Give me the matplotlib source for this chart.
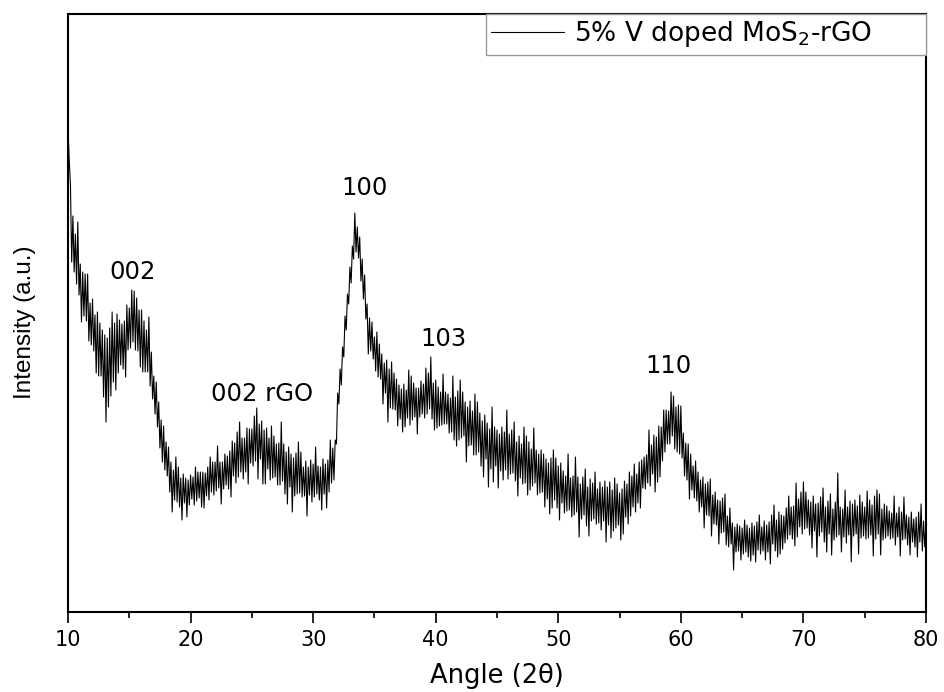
import numpy as np
import matplotlib
matplotlib.use("Agg")
import matplotlib.pyplot as plt

# ---- data (arbitrary intensity units) ----
angle_start, angle_stop, angle_step = 10.0, 80.0, 0.1
intensity = [
    484, 452, 427, 350, 396, 340, 378, 328, 390, 317,   # 10
    348, 290, 340, 296, 338, 291, 338, 271, 309, 267,   # 11
    313, 261, 297, 239, 300, 236, 289, 236, 282, 215,   # 12
    277, 190, 274, 205, 284, 216, 300, 230, 289, 222,   # 13
    298, 239, 292, 247, 288, 243, 291, 235, 307, 262,   # 14
    304, 264, 322, 270, 321, 262, 314, 261, 302, 245,   # 15
    302, 240, 291, 240, 282, 240, 295, 226, 260, 213,   # 16
    236, 198, 230, 185, 210, 164, 192, 150, 186, 142,   # 17
    170, 136, 165, 120, 150, 100, 142, 112, 155, 110,   # 18
    145, 105, 134, 92, 138, 109, 134, 95, 132, 107,     # 19
    137, 113, 135, 107, 145, 111, 140, 114, 140, 105,   # 20
    140, 104, 139, 116, 145, 112, 155, 120, 150, 117,   # 21
    150, 121, 166, 124, 150, 108, 150, 123, 158, 127,   # 22
    156, 123, 161, 115, 171, 136, 169, 129, 180, 135,   # 23
    190, 140, 174, 133, 174, 140, 184, 128, 183, 149,   # 24
    183, 146, 196, 151, 204, 133, 188, 153, 191, 128,   # 25
    182, 128, 184, 143, 174, 132, 186, 134, 176, 135,   # 26
    168, 127, 169, 127, 190, 131, 168, 118, 160, 108,   # 27
    165, 125, 158, 100, 154, 116, 159, 118, 170, 119,   # 28
    160, 115, 145, 116, 151, 96, 145, 117, 152, 110,    # 29
    148, 115, 165, 118, 146, 112, 145, 102, 153, 118,   # 30
    148, 104, 152, 120, 172, 129, 164, 132, 172, 168,   # 31
    219, 208, 243, 227, 265, 255, 296, 282, 318, 308,   # 32
    345, 329, 366, 353, 399, 360, 385, 354, 375, 331,   # 33
    353, 313, 337, 293, 308, 258, 294, 261, 290, 253,   # 34
    275, 241, 280, 235, 268, 233, 258, 208, 249, 219,   # 35
    252, 190, 243, 204, 250, 203, 239, 202, 233, 186,   # 36
    227, 193, 223, 180, 228, 185, 222, 194, 242, 187,   # 37
    236, 192, 229, 195, 224, 178, 224, 195, 231, 198,   # 38
    228, 194, 244, 198, 239, 203, 255, 193, 229, 182,   # 39
    232, 184, 225, 186, 220, 187, 238, 188, 220, 188,   # 40
    218, 179, 214, 180, 236, 172, 215, 166, 221, 172,   # 41
    232, 174, 220, 176, 210, 150, 205, 166, 211, 167,   # 42
    201, 157, 218, 157, 210, 160, 199, 146, 191, 135,   # 43
    197, 153, 189, 125, 183, 143, 205, 130, 185, 146,   # 44
    182, 124, 178, 141, 185, 132, 180, 142, 202, 133,   # 45
    178, 138, 182, 139, 190, 131, 170, 116, 176, 134,   # 46
    168, 128, 185, 129, 176, 117, 170, 122, 163, 126,   # 47
    184, 129, 162, 117, 158, 119, 162, 120, 158, 105,   # 48
    153, 113, 149, 98, 154, 104, 162, 112, 154, 104,    # 49
    146, 92, 149, 109, 141, 99, 136, 101, 158, 102,     # 50
    134, 95, 136, 97, 155, 100, 135, 75, 128, 93,       # 51
    135, 97, 143, 86, 125, 76, 133, 91, 129, 93,        # 52
    140, 88, 123, 89, 130, 82, 125, 91, 131, 70,        # 53
    125, 87, 130, 74, 122, 81, 134, 84, 128, 87,        # 54
    119, 72, 123, 78, 131, 95, 128, 88, 140, 96,        # 55
    136, 105, 148, 100, 138, 109, 150, 104, 152, 124,   # 56
    155, 123, 157, 129, 182, 126, 167, 138, 177, 120,   # 57
    175, 130, 186, 135, 185, 151, 202, 160, 202, 168,   # 58
    201, 168, 220, 176, 216, 163, 205, 160, 207, 158,   # 59
    206, 154, 179, 136, 169, 132, 168, 113, 158, 122,   # 60
    146, 114, 151, 111, 140, 100, 132, 105, 135, 84,    # 61
    128, 97, 130, 96, 133, 76, 117, 88, 120, 87,        # 62
    112, 68, 111, 79, 114, 80, 118, 67, 96, 65,         # 63
    104, 68, 89, 42, 85, 60, 88, 61, 86, 52,            # 64
    84, 58, 92, 60, 87, 55, 84, 51, 89, 57,             # 65
    86, 50, 90, 62, 97, 58, 85, 61, 91, 52,             # 66
    87, 60, 90, 48, 97, 68, 107, 61, 92, 55,            # 67
    100, 58, 97, 63, 96, 69, 104, 73, 116, 77,          # 68
    105, 73, 106, 66, 129, 75, 113, 85, 120, 78,        # 69
    130, 83, 120, 84, 112, 77, 110, 64, 116, 81,        # 70
    108, 55, 109, 76, 115, 80, 124, 70, 105, 60,        # 71
    111, 78, 118, 57, 103, 72, 110, 75, 139, 77,        # 72
    105, 60, 103, 75, 122, 69, 105, 77, 111, 50,        # 73
    108, 76, 112, 78, 106, 58, 117, 74, 110, 76,        # 74
    105, 73, 121, 74, 112, 77, 107, 56, 116, 73,        # 75
    122, 78, 118, 57, 103, 72, 108, 74, 106, 76,        # 76
    101, 73, 99, 74, 116, 67, 99, 75, 105, 56,          # 77
    100, 72, 115, 73, 97, 67, 95, 57, 100, 70,          # 78
    93, 65, 95, 55, 100, 70, 108, 61, 91, 65,           # 79
    88,                                                 # 80
]
angle = np.round(np.arange(angle_start, angle_stop + angle_step / 2, angle_step), 1)

peak_labels = ["002", "100", "002 rGO", "103", "110"]
peak_label_x = [15.3, 34.2, 25.85, 40.6, 59.0]
peak_label_y = [333, 417, 211, 266, 239]

x_ticks = [10, 20, 30, 40, 50, 60, 70, 80]
x_minor_ticks = [15, 25, 35, 45, 55, 65, 75]
series_label = "5% V doped MoS$_2$-rGO"

# ---- figure ----
W, H = 944, 692
fig = plt.figure(figsize=(W / 100, H / 100), dpi=100)
L, R, T, B = 68, 926, 14, 612
ax = fig.add_axes([L / W, 1 - B / H, (R - L) / W, (B - T) / H])

ax.plot(angle, intensity, color="black", lw=0.8, label=series_label)

ax.set_xlim(10, 80)
ax.set_ylim(0, 598)
ax.set_xticks(x_ticks)
ax.set_xticks(x_minor_ticks, minor=True)
ax.set_yticks([])
ax.tick_params(axis="x", which="major", direction="out", length=8, width=1.2,
               labelsize=15, pad=5, top=False)
ax.tick_params(axis="x", which="minor", direction="out", length=4, width=1.2, top=False)
for sp in ax.spines.values():
    sp.set_linewidth(1.5)
    sp.set_color("black")

ax.set_xlabel("Angle (2\u03b8)", fontsize=18.5, va="center")
ax.xaxis.set_label_coords(0.5, -0.107)
ax.set_ylabel("Intensity (a.u.)", fontsize=17.5, family="Liberation Sans",
              rotation=90, ha="center", va="center", rotation_mode="default")
ax.yaxis.set_label_coords(-0.050, 0.485)

for lab, xx, yy in zip(peak_labels, peak_label_x, peak_label_y):
    ax.text(xx, yy, lab, fontsize=17.5, ha="center", va="baseline", color="black")

x0 = (486 - L) / (R - L)
leg = ax.legend(loc="upper right", bbox_to_anchor=(x0, (B - 50) / (B - T), 1 - x0, 36 / (B - T)),
                mode="expand", borderaxespad=0, fancybox=False, fontsize=19,
                handlelength=2.75, handletextpad=0.4, borderpad=0.2, framealpha=1)
leg.get_frame().set_edgecolor("#9a9a9a")
leg.get_frame().set_linewidth(1.0)

fig.savefig("out.png", dpi=100, facecolor="white")
